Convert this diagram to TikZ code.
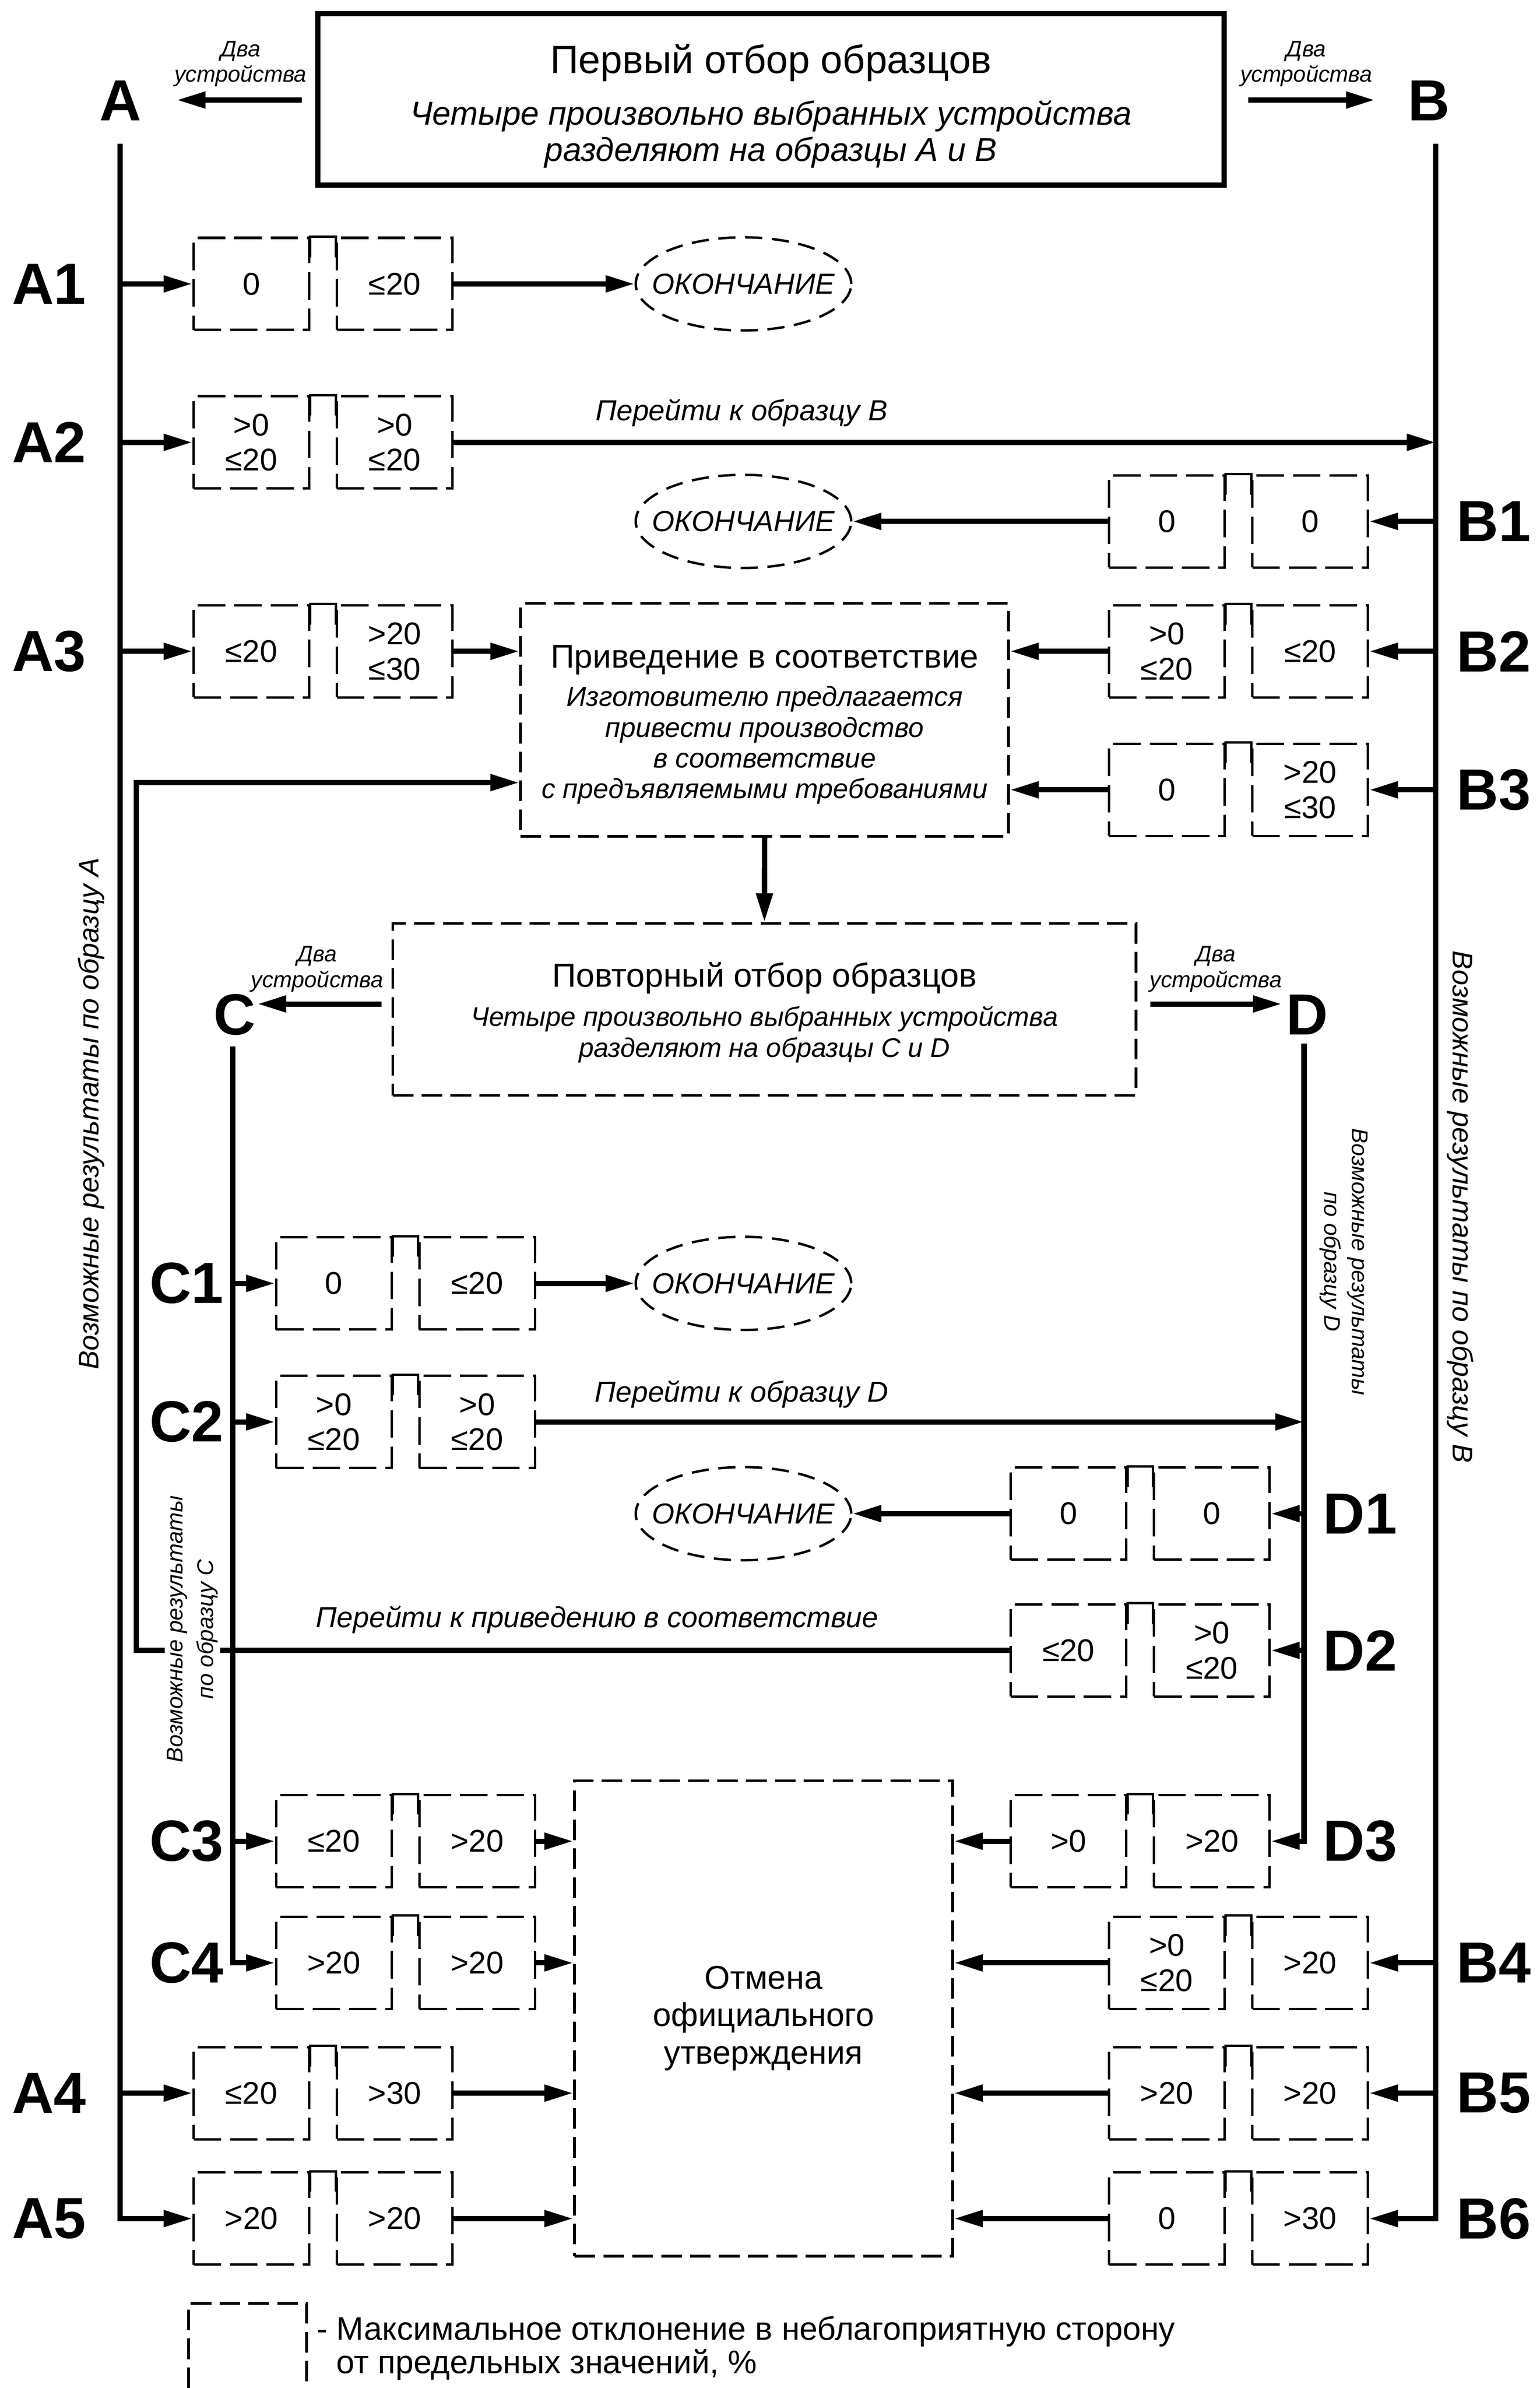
\documentclass[tikz,border=0pt]{standalone}
\usepackage{fontspec}
\setmainfont{Liberation Sans}
\usepackage{tikz}
\usetikzlibrary{arrows.meta,positioning,shapes.geometric}

\begin{document}
\begin{tikzpicture}[
    flow/.style={line width=2.2pt,-{Triangle[length=0.42cm,width=0.23cm]}},
    valbox/.style={draw,line width=1pt,dash pattern=on 0.4cm off 0.13cm,
      minimum width=1.68cm,minimum height=1.34cm,inner sep=0pt,align=center,
      font=\fontsize{13}{14.5}\selectfont},
    bigbox/.style={draw,line width=1.1pt,dash pattern=on 0.3cm off 0.12cm,inner sep=0pt},
    endbox/.style={ellipse,draw,line width=1pt,dash pattern=on 0.25cm off 0.14cm,
      minimum width=3.115cm,minimum height=1.355cm,inner xsep=-0.22cm,inner ysep=0pt,
      font=\itshape\fontsize{12}{14}\selectfont},
    rowlabel/.style={font=\bfseries\fontsize{24}{28}\selectfont,inner sep=0pt},
    note/.style={font=\itshape\fontsize{12}{14}\selectfont,inner sep=1pt},
    twodev/.style={font=\itshape\fontsize{9.3}{10.6}\selectfont,align=center,inner sep=0pt}
  ]
    \useasboundingbox (0,0) rectangle (22.405,-34.74);

    % first sampling
    \node[draw,line width=2.2pt,minimum width=13.185cm,minimum height=2.49cm,inner sep=0pt]
      (first) at (11.2175,-1.445) {};
    \node[font=\fontsize{16.3}{19}\selectfont] (first-t) at (11.2175,-0.91) {Первый отбор образцов};
    \node[font=\itshape\fontsize{13.7}{15}\selectfont,align=center] (first-s) at (11.2175,-1.95)
      {Четыре произвольно выбранных устройства\\разделяют на образцы А и В};
    \node[rowlabel] (A) at (1.75,-1.465) {A};
    \node[rowlabel] (B) at (20.79,-1.465) {B};
    \coordinate (A-in) at (2.57,-1.455);
    \coordinate (B-in) at (20.005,-1.455);
    \draw[flow,shorten <=0.195cm] (first.west |- A-in) -- (A-in);
    \draw[flow,shorten <=0.31cm] (first.east |- B-in) -- (B-in);
    \node[twodev] (two-a) at (3.5,-0.93) {Два\\устройства};
    \node[twodev] (two-b) at (19.005,-0.93) {Два\\устройства};

    % pairs of results
    \foreach \n/\x/\y/\lv/\rv in {
      A1/2.8/-4.13/0/≤20, A2/2.8/-6.435/{>0\\≤20}/{>0\\≤20},
      A3/2.8/-9.475/≤20/{>20\\≤30}, A4/2.8/-30.45/≤20/>30, A5/2.8/-32.275/>20/>20,
      B1/16.12/-7.585/0/0, B2/16.12/-9.475/{>0\\≤20}/≤20, B3/16.12/-11.49/0/{>20\\≤30},
      B4/16.12/-28.555/{>0\\≤20}/>20, B5/16.12/-30.45/>20/>20, B6/16.12/-32.275/0/>30,
      C1/4.0/-18.67/0/≤20, C2/4.0/-20.685/{>0\\≤20}/{>0\\≤20},
      C3/4.0/-26.785/≤20/>20, C4/4.0/-28.555/>20/>20,
      D1/14.69/-22.02/0/0, D2/14.69/-24.01/≤20/{>0\\≤20}, D3/14.69/-26.785/>0/>20} {
      \node[valbox,anchor=west] (\n-l) at (\x,\y) {\lv};
      \node[valbox,anchor=west] (\n-r) at ([xshift=0.37cm]\n-l.east) {\rv};
      \draw[line width=1pt] ([yshift=-0.3cm]\n-l.north east) -- (\n-l.north east)
        -- (\n-r.north west) -- ([yshift=-0.3cm]\n-r.north west);
    }

    % row labels
    \coordinate (labA) at (0.715,0);
    \coordinate (labB) at (21.735,0);
    \coordinate (labC) at (2.715,0);
    \coordinate (labD) at (19.79,0);
    \foreach \n/\c in {A1/labA,A2/labA,A3/labA,A4/labA,A5/labA,
      B1/labB,B2/labB,B3/labB,B4/labB,B5/labB,B6/labB,
      C1/labC,C2/labC,C3/labC,C4/labC,D1/labD,D2/labD,D3/labD}
      \node[rowlabel] (lab-\n) at (\n-l.west -| \c) {\n};

    % lines of samples A and B
    \coordinate (Aline) at (1.745,-2.09);
    \coordinate (Bline) at (20.89,-2.09);
    \foreach \n in {A1,A2,A3,A4}
      \draw[flow] (Aline |- \n-l.west) -- (\n-l.west);
    \draw[flow] (Aline) |- (A5-l.west);
    \foreach \n in {B1,B2,B3,B4,B5}
      \draw[flow] (Bline |- \n-r.east) -- (\n-r.east);
    \draw[flow] (Bline) |- (B6-r.east);

    % end states
    \node[endbox] (end-a) at (10.8175,-4.13) {ОКОНЧАНИЕ};
    \node[endbox] (end-b) at (10.8175,-7.585) {ОКОНЧАНИЕ};
    \node[endbox] (end-c) at (10.8175,-18.67) {ОКОНЧАНИЕ};
    \node[endbox] (end-d) at (10.8175,-22.02) {ОКОНЧАНИЕ};
    \draw[flow] (A1-r.east) -- (end-a.west);
    \draw[flow] (B1-l.west) -- (end-b.east);
    \draw[flow] (C1-r.east) -- (end-c.west);
    \draw[flow] (D1-l.west) -- (end-d.east);

    \draw[flow] (A2-r.east) -- (A2-r.east -| Bline);
    \node[note] (go-b) at (10.79,-6.005) {Перейти к образцу B};

    % bringing into conformity
    \node[bigbox,minimum width=7.1cm,minimum height=3.385cm] (fix) at (11.125,-10.4725) {};
    \node[font=\fontsize{13.7}{15}\selectfont] (fix-t) at (11.125,-9.6) {Приведение в соответствие};
    \node[font=\itshape\fontsize{11.4}{12.7}\selectfont,align=center] (fix-s) at (11.125,-10.84)
      {Изготовителю предлагается\\привести производство\\в соответствие\\с предъявляемыми требованиями};
    \draw[flow] (A3-r.east) -- (A3-r.east -| fix.west);
    \draw[flow] (B2-l.west) -- (B2-l.west -| fix.east);
    \draw[flow] (B3-l.west) -- (B3-l.west -| fix.east);

    % second sampling
    \node[bigbox,minimum width=10.815cm,minimum height=2.5cm] (second) at (11.1225,-14.685) {};
    \node[font=\fontsize{13.8}{15}\selectfont] (second-t) at (11.1225,-14.23) {Повторный отбор образцов};
    \node[font=\itshape\fontsize{11.15}{12.9}\selectfont,align=center] (second-s) at (11.1225,-15.05)
      {Четыре произвольно выбранных устройства\\разделяют на образцы C и D};
    \draw[flow] (fix.south) -- (second.north);
    \node[rowlabel] (C) at (3.415,-14.76) {C};
    \node[rowlabel] (D) at (19.02,-14.76) {D};
    \coordinate (C-in) at (3.745,-14.605);
    \coordinate (D-in) at (18.65,-14.605);
    \draw[flow,shorten <=0.145cm] (second.west |- C-in) -- (C-in);
    \draw[flow,shorten <=0.19cm] (second.east |- D-in) -- (D-in);
    \node[twodev] (two-c) at (4.615,-14.1) {Два\\устройства};
    \node[twodev] (two-d) at (17.69,-14.1) {Два\\устройства};

    % lines of samples C and D
    \coordinate (Cline) at (3.385,-15.225);
    \coordinate (Dline) at (18.975,-15.18);
    \foreach \n in {C1,C2,C3}
      \draw[flow] (Cline |- \n-l.west) -- (\n-l.west);
    \draw[flow] (Cline) |- (C4-l.west);
    \foreach \n in {D1,D2}
      \draw[flow] (Dline |- \n-r.east) -- (\n-r.east);
    \draw[flow] (Dline) |- (D3-r.east);

    \draw[flow] (C2-r.east) -- (C2-r.east -| Dline);
    \node[note] (go-d) at (10.79,-20.285) {Перейти к образцу D};

    % back to conformity
    \coordinate (back) at (1.985,-11.385);
    \draw[flow] (D2-l.west) -| (back) -- (back -| fix.west);
    \node[note] (go-fix) at (8.69,-23.565) {Перейти к приведению в соответствие};

    % withdrawal
    \node[bigbox,minimum width=5.5cm,minimum height=6.915cm,align=center,
      font=\fontsize{13.6}{15.6}\selectfont] (cancel) at (11.11,-29.3625)
      {Отмена\\официального\\утверждения};
    \foreach \n in {C3,C4,A4,A5}
      \draw[flow] (\n-r.east) -- (\n-r.east -| cancel.west);
    \foreach \n in {D3,B4,B5,B6}
      \draw[flow] (\n-l.west) -- (\n-l.west -| cancel.east);

    % side texts
    \node[note,rotate=90,font=\itshape\fontsize{11.7}{14}\selectfont] (res-a) at (1.33,-16.2)
      {Возможные результаты по образцу A};
    \node[note,rotate=-90,font=\itshape\fontsize{11.7}{14}\selectfont] (res-b) at (21.25,-17.555)
      {Возможные результаты по образцу B};
    \node[font=\itshape\fontsize{9.4}{11.6}\selectfont,align=center,rotate=-90,inner sep=1pt]
      (res-d) at (19.55,-18.355) {Возможные результаты\\по образцу D};
    \node[font=\itshape\fontsize{9.4}{12.5}\selectfont,align=center,rotate=90,inner sep=1pt,fill=white]
      (res-c) at (2.80,-23.7) {Возможные результаты\\по образцу C};

    % legend
    \draw[line width=1.1pt,dash pattern=on 0.3cm off 0.12cm]
      (2.745,-34.74) |- (4.46,-33.51) -- (4.46,-34.74);
    \node[anchor=west,align=left,font=\fontsize{13.5}{13.8}\selectfont,inner sep=0pt]
      (legend) at (4.6,-34.16)
      {-~Максимальное отклонение в неблагоприятную сторону\\\hphantom{-~}от предельных значений, \%};
\end{tikzpicture}
\end{document}
